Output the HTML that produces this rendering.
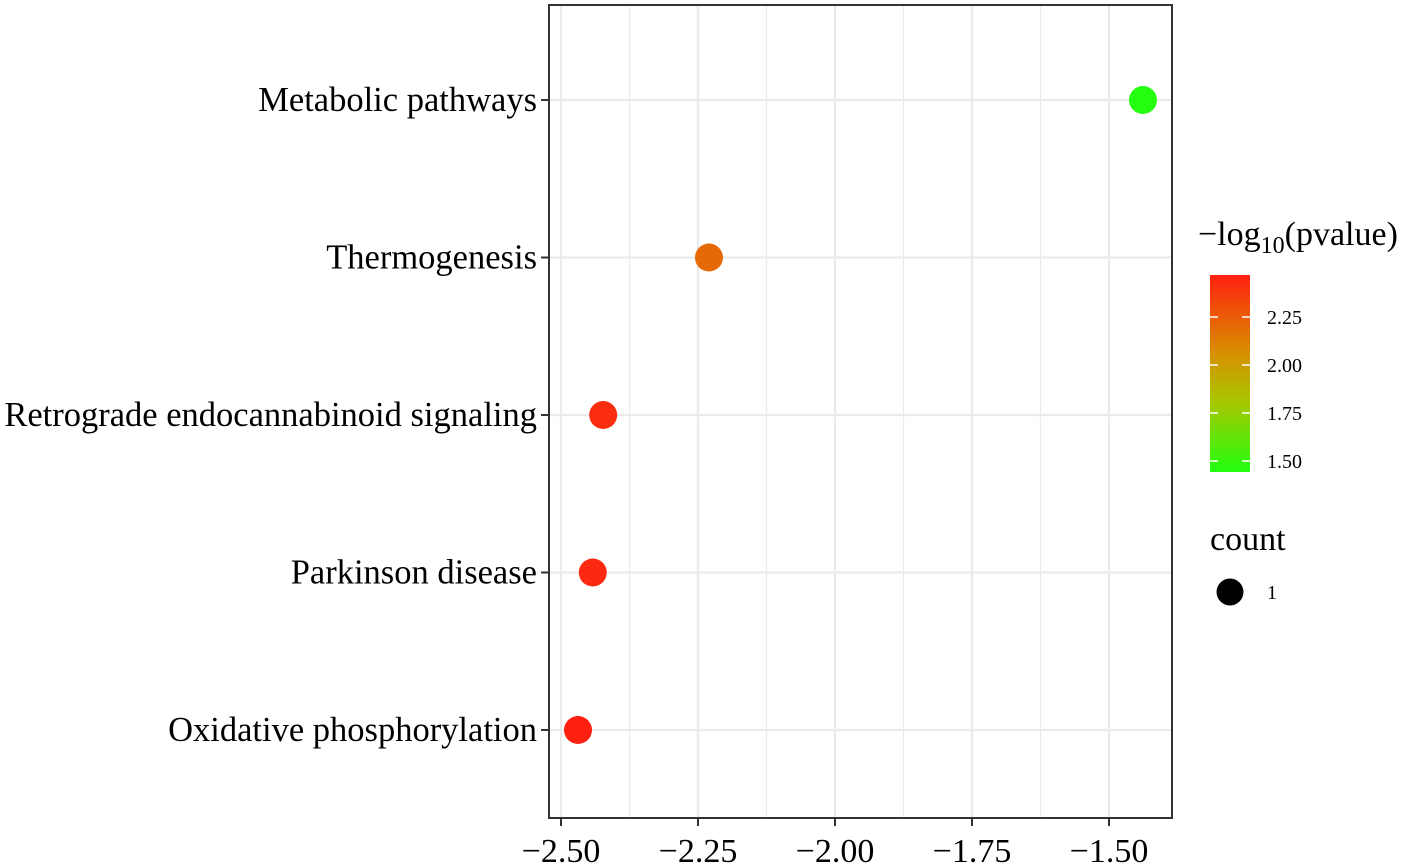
<!DOCTYPE html>
<html><head><meta charset="utf-8"><style>
body{margin:0;background:#fff}
svg{display:block;font-family:"Liberation Serif",serif}
</style></head><body>
<svg id="chart" width="1418" height="865">
<defs><linearGradient id="cg" x1="0" y1="1" x2="0" y2="0">
<stop offset="0" stop-color="#22ff10"/><stop offset="0.35" stop-color="#a6c800"/><stop offset="0.6" stop-color="#d89000"/><stop offset="1" stop-color="#ff2010"/></linearGradient></defs>
<g id="grid"></g><g id="pts"></g><g id="axes"></g>
<g>
<text x="1198" y="245" font-size="34">−log<tspan font-size="24" dy="8">10</tspan><tspan dy="-8">(pvalue)</tspan></text>
<rect x="1210" y="275" width="40" height="197" fill="url(#cg)"/>
<g id="cbticks"></g>
</g>
<g>
<text x="1210" y="550" font-size="34">count</text>
<circle cx="1230" cy="592" r="13.5" fill="#000"/>
<text x="1267" y="599" font-size="20">1</text>
</g>
</svg>
<script>
const categories=["Metabolic pathways","Thermogenesis","Retrograde endocannabinoid signaling","Parkinson disease","Oxidative phosphorylation"];
const xValues=[-1.438,-2.23,-2.423,-2.442,-2.469];
const pValues=[1.45,2.2,2.42,2.44,2.47];
const xTicks=[-2.5,-2.25,-2.0,-1.75,-1.5];
const xTickLabels=["−2.50","−2.25","−2.00","−1.75","−1.50"];
const cbTicks=[1.5,1.75,2.0,2.25];
const cbTickLabels=["1.50","1.75","2.00","2.25"];
const NS="http://www.w3.org/2000/svg";
const L=549,R=1172,T=5,B=818;
const xs=v=>561+(v+2.5)*548;
const ys=i=>100+i*157.5;
const cs=v=>461-(v-1.5)*192;
function mk(t,a,p){const e=document.createElementNS(NS,t);for(const k in a)e.setAttribute(k,a[k]);p.appendChild(e);return e;}
function col(v){const t=Math.max(0,Math.min(1,(v-1.443)/(2.469-1.443)));
 const stops=[[0,[34,255,16]],[0.35,[166,200,0]],[0.6,[216,144,0]],[1,[255,32,16]]];
 for(let i=1;i<stops.length;i++){if(t<=stops[i][0]){const a=stops[i-1],b=stops[i],f=(t-a[0])/(b[0]-a[0]);return `rgb(${a[1].map((c,j)=>Math.round(c+(b[1][j]-c)*f)).join(',')})`;}}
 return 'rgb(255,32,16)';}
const g=document.getElementById('grid'),p=document.getElementById('pts'),ax=document.getElementById('axes');
const all=[];xTicks.forEach((v,i)=>{all.push(v);if(i<xTicks.length-1)all.push(v+0.125);});all.unshift(-2.625);
all.forEach(v=>{const x=xs(v);if(x>L&&x<R){const l=mk('line',{x1:x,x2:x,y1:T,y2:B,stroke:'#ebebeb','stroke-width':v*8%2===0?2.2:1.2},g);

}});
categories.forEach((c,i)=>{const y=ys(i);
 const l=mk('line',{x1:L,x2:R,y1:y,y2:y,stroke:'#ebebeb','stroke-width':2.2},g);
 
 
 const tk=mk('line',{x1:L-8,x2:L,y1:y,y2:y,stroke:'#333','stroke-width':2},ax);
 
 
 const t=mk('text',{x:L-12,y:y+11,'font-size':34.5,'text-anchor':'end',fill:'#000'},ax);t.textContent=c;
 
 
 const d=mk('circle',{cx:xs(xValues[i]),cy:y,r:14,fill:col(pValues[i])},p);
 
 
});
const fr=mk('rect',{x:L,y:T,width:R-L,height:B-T,fill:'none',stroke:'#333','stroke-width':2},ax);


xTicks.forEach((v,i)=>{const x=xs(v);
 const tk=mk('line',{x1:x,x2:x,y1:B,y2:B+8,stroke:'#333','stroke-width':2},ax);
 
 
 const t=mk('text',{x:x,y:B+44,'font-size':34,'text-anchor':'middle',fill:'#000'},ax);t.textContent=xTickLabels[i];
 
 
});
const cb=document.getElementById('cbticks');
cbTicks.forEach((v,i)=>{const y=cs(v);
 mk('line',{x1:1210,x2:1218,y1:y,y2:y,stroke:'#fff','stroke-width':1.5},cb);
 mk('line',{x1:1242,x2:1250,y1:y,y2:y,stroke:'#fff','stroke-width':1.5},cb);
 const t=mk('text',{x:1267,y:y+7,'font-size':20},cb);t.textContent=cbTickLabels[i];
 
 
});
</script>
</body></html>
